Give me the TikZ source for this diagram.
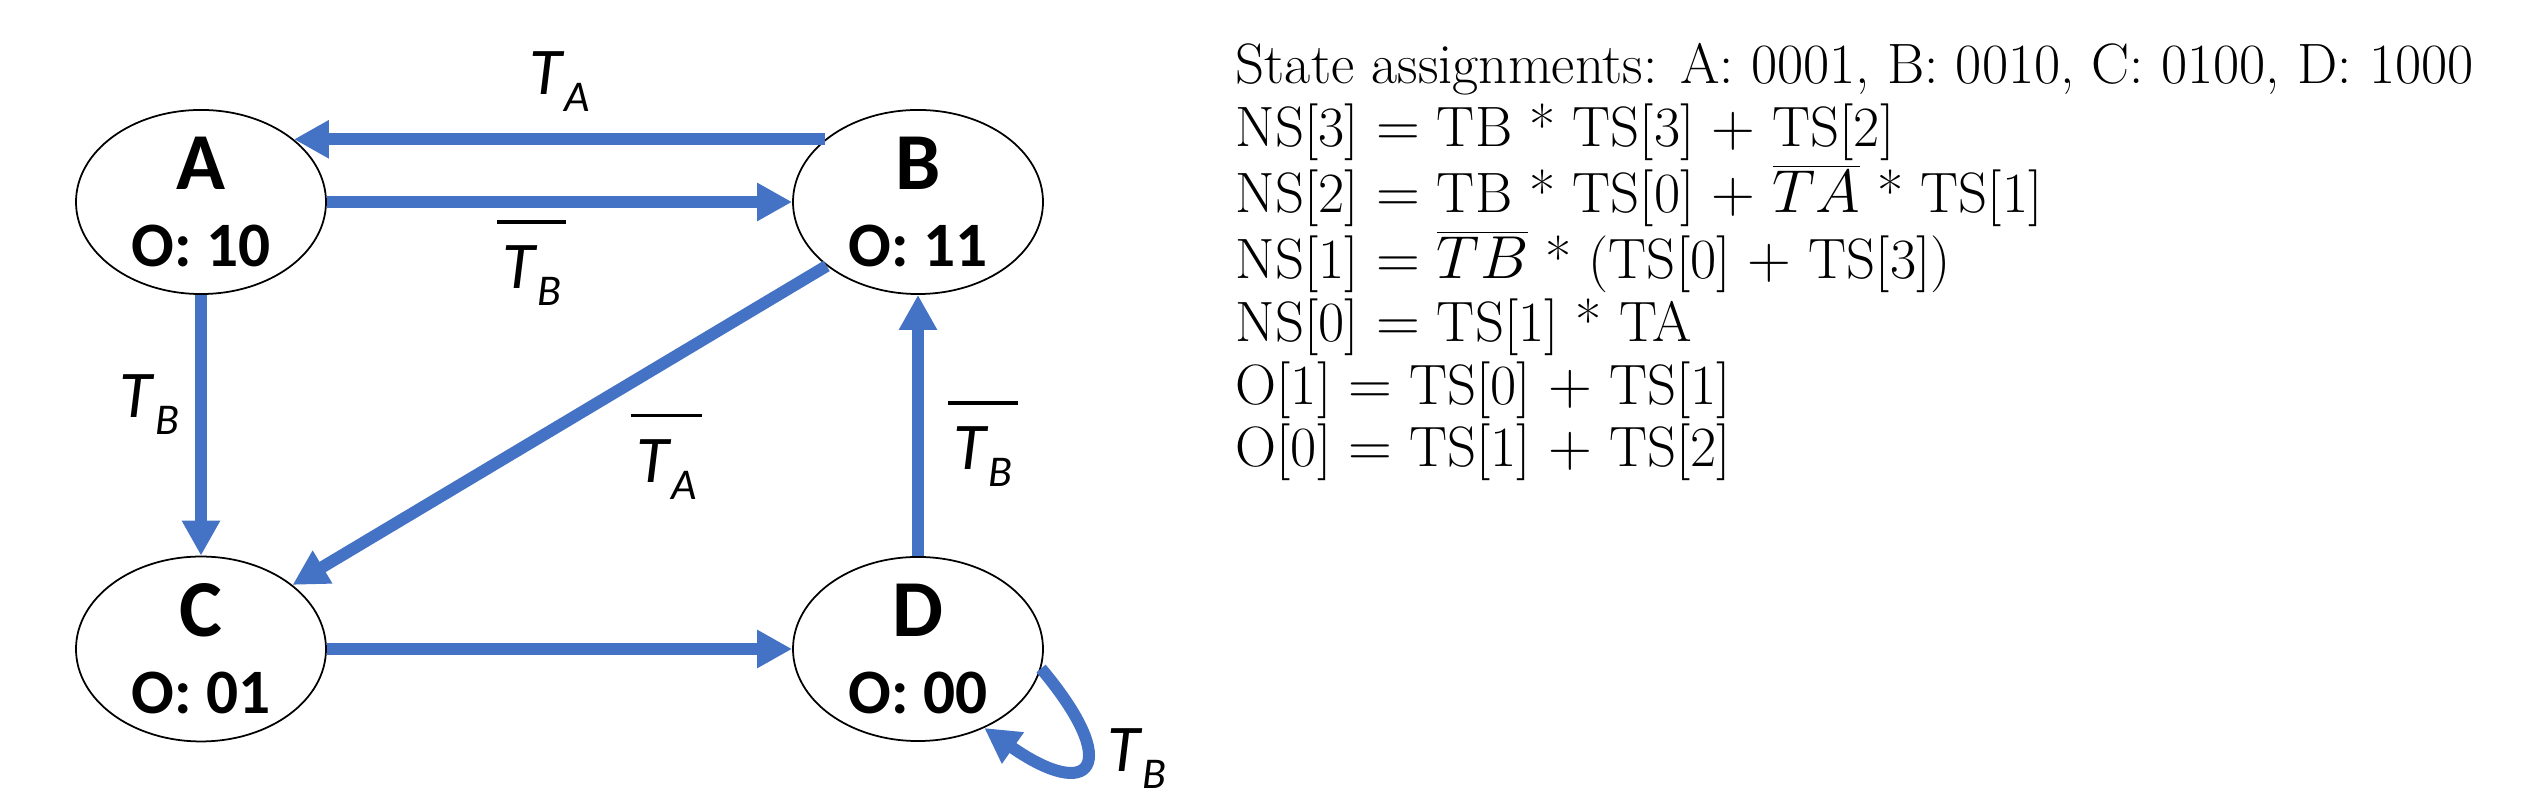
\documentclass[tikz,border=0pt]{standalone}
\usepackage{fontspec}
\newfontfamily\calibri{Carlito}
\usetikzlibrary{arrows.meta, positioning, shapes.geometric}
\definecolor{edgeblue}{RGB}{68,114,196}
\newcommand{\sig}[1]{\textit{T}\raisebox{-0.17cm}{\fontsize{12.5}{12.5}\selectfont\textit{#1}}}
\newcommand{\nsig}[1]{\vbox{\hrule height 1.1pt\kern 0.22cm\hbox{\kern1.5pt\sig{#1}\kern1.5pt}}}

\begin{document}
\begin{tikzpicture}[
    node distance={7.17cm},
    state/.style = {draw, ellipse, line width=0.5pt, minimum width=2.5cm, minimum height=1.76cm, inner sep=0, align=center, font=\calibri\bfseries\fontsize{18}{22}\selectfont},
    trans/.style = {draw=edgeblue, line width=1.2mm, -{Triangle[length=3.5mm, width=3.6mm]}},
    lbl/.style = {inner sep=0, font=\calibri\fontsize{19}{19}\selectfont},
    eqs/.style = {align=left, inner sep=0, font=\fontsize{16.2}{17.8}\selectfont}
  ]
\useasboundingbox (0,0) rectangle (25.25,8);
\node[state] (A) at (2.01,5.98) {{\fontsize{23}{22}\selectfont A}\\O: 10};
\node[state] (B) [right of=A] {{\fontsize{23}{22}\selectfont B}\\O: 11};
\node[state] (C) [below of=A, node distance=4.47cm] {{\fontsize{23}{22}\selectfont C}\\O: 01};
\node[state] (D) [right of=C] {{\fontsize{23}{22}\selectfont D}\\O: 00};

\draw[trans] (B.146) -- node[lbl, above=2.2mm] (ta) {\sig{A}} (A.34);
\draw[trans] (A) -- node[lbl, pos=0.44, below=1.2mm] (ntb1) {\nsig{B}} (B);
\draw[trans] (A) -- node[lbl, pos=0.42, left=1.6mm] (tb1) {\sig{B}} (C);
\draw[trans] (B.215) -- node[lbl, pos=0.4, below right=1.4mm and 1.2mm] (nta) {\nsig{A}} (C.35);
\draw[trans] (C) -- (D);
\draw[trans] (D) -- node[lbl, pos=0.43, right=2.4mm] (ntb2) {\nsig{B}} (B);
\draw[trans] (D.-9) to[out=-50, in=-35, looseness=4] node[lbl, pos=0.45, right=1.5mm] (tb2) {\sig{B}} (D.-50);

\node[eqs, anchor=north west] (logic) at (12.35,7.57) {State assignments: A: 0001, B: 0010, C: 0100, D: 1000\\
  NS[3] $=$ TB * TS[3] $+$ TS[2]\\
  NS[2] $=$ TB * TS[0] $+$ $\overline{TA}$ * TS[1]\\
  NS[1] $=$ $\overline{TB}$ * (TS[0] $+$ TS[3])\\
  NS[0] $=$ TS[1] * TA\\
  O[1] $=$ TS[0] $+$ TS[1]\\
  O[0] $=$ TS[1] $+$ TS[2]};
\end{tikzpicture}
\end{document}
